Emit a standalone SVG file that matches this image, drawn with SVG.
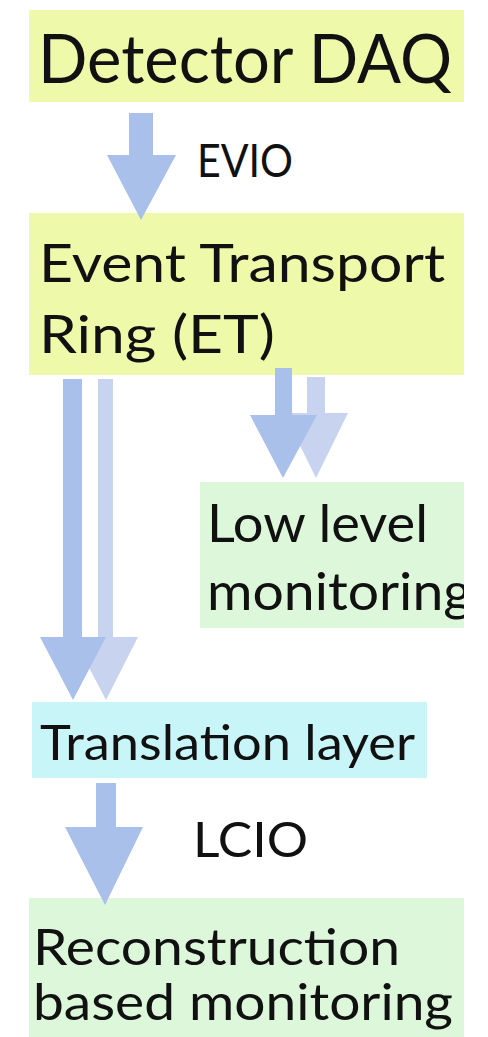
<svg xmlns="http://www.w3.org/2000/svg" width="488" height="1037" viewBox="0 0 488 1037">
<style>
text{font-family:Lato,"Open Sans","Liberation Sans",sans-serif;fill:#111;}
.dark{fill:#a8c0ea;}
.light{fill:#c8d4ef;}
</style>
<defs>
<clipPath id="clipR"><rect x="0" y="0" width="464" height="1037"/></clipPath>
</defs>
<rect width="488" height="1037" fill="#fff"/>
<g id="detector-daq">
<rect x="29" y="10" width="435" height="92" fill="#eefaa9"/>
<text x="38" y="83" font-size="68" textLength="414" lengthAdjust="spacingAndGlyphs">Detector DAQ</text>
</g>
<g id="et-ring">
<rect x="29" y="213" width="435" height="162" fill="#eefaa9"/>
<text x="39" y="282" font-size="52" textLength="406" lengthAdjust="spacingAndGlyphs">Event Transport</text>
<text x="39" y="353" font-size="52" textLength="236" lengthAdjust="spacingAndGlyphs">Ring (ET)</text>
</g>
<g id="low-level" clip-path="url(#clipR)">
<rect x="200" y="482" width="264" height="146" fill="#ddf7da"/>
<text x="207" y="542" font-size="52" textLength="221" lengthAdjust="spacingAndGlyphs">Low level</text>
<text x="207" y="610" font-size="52" textLength="265" lengthAdjust="spacingAndGlyphs">monitoring</text>
</g>
<g id="translation">
<rect x="32" y="702" width="395" height="76" fill="#c8f5f8"/>
<text x="40" y="760" font-size="48" textLength="375" lengthAdjust="spacingAndGlyphs">Translation layer</text>
</g>
<g id="reco" clip-path="url(#clipR)">
<rect x="29" y="898" width="435" height="139" fill="#dcf7d9"/>
<text x="33" y="965" font-size="51" textLength="367" lengthAdjust="spacingAndGlyphs">Reconstruction</text>
<text x="33" y="1020" font-size="51" textLength="420" lengthAdjust="spacingAndGlyphs">based monitoring</text>
</g>
<g id="connectors">
<polygon class="dark" points="129,113 153,113 153,155 176,155 141,220 107,155 129,155"/>
<text x="197" y="177" font-size="47" textLength="96" lengthAdjust="spacingAndGlyphs">EVIO</text>
<polygon class="light" points="98,379 113,379 113,637 138,637 106,700 73,637 98,637"/>
<polygon class="dark" points="63,379 82,379 82,637 106,637 73,700 40,637 63,637"/>
<polygon class="light" points="307,377 325,377 325,413 348,413 316,478 284,413 307,413"/>
<polygon class="dark" points="275,368 292,368 292,415 317,415 283,478 250,415 275,415"/>
<polygon class="dark" points="96,783 116,783 116,827 143,827 105,905 65,827 96,827"/>
<text x="193" y="857" font-size="48" textLength="115" lengthAdjust="spacingAndGlyphs">LCIO</text>
</g>
</svg>
